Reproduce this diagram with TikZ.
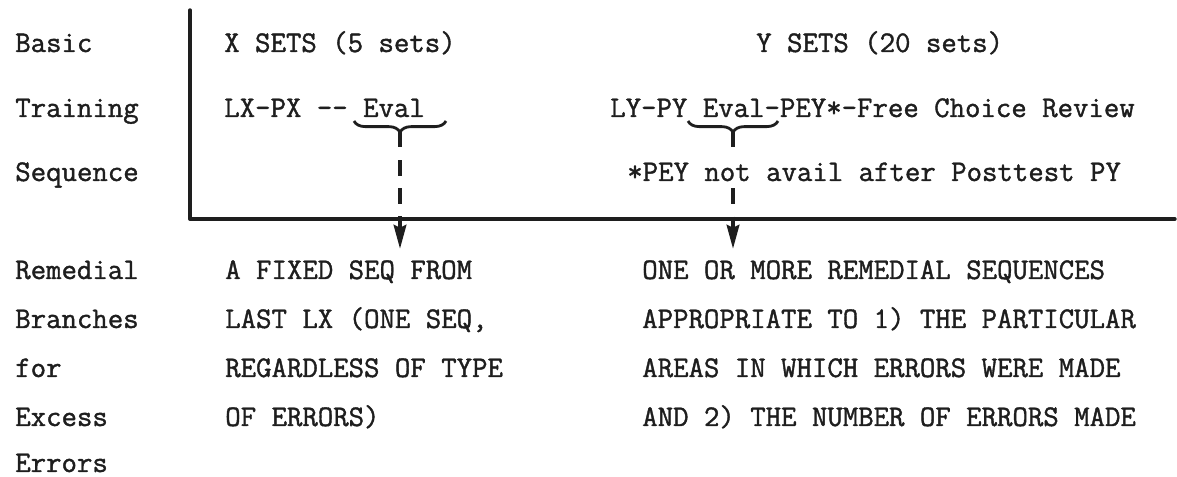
\documentclass[tikz,border=0pt]{standalone}
\usepackage{fontspec}
\newfontfamily\typew{Latin Modern Mono}[FakeBold=1.3]
\usetikzlibrary{arrows.meta,decorations.pathreplacing}
\definecolor{ink}{RGB}{30,30,30}
\begin{document}
\begin{tikzpicture}[x=0.025cm,y=-0.025cm,
  txt/.style={inner sep=0pt, anchor=base west, text=ink,
    font=\typew\fontsize{21.3}{25}\selectfont},
  rem/.style={txt, inner ysep=8pt},
  frame/.style={draw=ink, line width=2.4pt, line cap=round, line join=round},
  brc/.style={draw=ink, line width=2pt, decorate,
    decoration={brace, mirror, amplitude=8pt}},
  conn/.style={draw=ink, line width=2.4pt, dash pattern=on 11pt off 9pt,
    -{Stealth[length=17pt,width=9pt,inset=2pt]}},
]
\useasboundingbox (0,0) rectangle (1177,477);

% frame
\coordinate (ftop) at (190,10);
\coordinate (fcorner) at (190,219);
\coordinate (fend) at (1175,219);
\draw[frame] (ftop) -- (fcorner) -- (fend);

% left labels
\node[txt] (b1) at (15,52)  {Basic};
\node[txt] (b2) at (15,117) {Training};
\node[txt] (b3) at (15,181) {Sequence};
\node[txt] (r1) at (15,279) {Remedial};
\node[txt] (r2) at (15,328) {Branches};
\node[txt] (r3) at (15,377) {for};
\node[txt] (r4) at (15,426) {Excess};
\node[txt] (r5) at (15,472) {Errors};

% X sets
\node[txt] (xsets) at (224,52)  {X SETS (5 sets)};
\node[txt] (xseq)  at (224,117) {LX-PX -- Eval};

% Y sets
\node[txt] (ysets) at (756,52)  {Y SETS (20 sets)};
\node[txt] (yseq)  at (610,117) {LY-PY Eval-PEY*-Free Choice Review};
\node[txt, inner ysep=5pt] (pey) at (627,181) {*PEY not avail after Posttest PY};

% remedial branches
\node[rem] (fix1) at (225,279) {A FIXED SEQ FROM};
\node[txt] (fix2) at (225,328) {LAST LX (ONE SEQ,};
\node[txt] (fix3) at (225,377) {REGARDLESS OF TYPE};
\node[txt] (fix4) at (225,426) {OF ERRORS)};

\node[rem] (one1) at (642,279) {ONE OR MORE REMEDIAL SEQUENCES};
\node[txt] (one2) at (642,328) {APPROPRIATE TO 1) THE PARTICULAR};
\node[txt] (one3) at (642,377) {AREAS IN WHICH ERRORS WERE MADE};
\node[txt] (one4) at (642,426) {AND 2) THE NUMBER OF ERRORS MADE};

% braces
\draw[brc] (354,121) -- (446,121);
\coordinate (tipL) at (400,132);
\draw[brc] (688,121) -- (778,121);
\coordinate (tipR) at (733,132);

% connectors
\draw[conn] (tipL) -- (tipL |- fix1.north);
\draw[conn] (tipR) -- (tipR |- pey.north) (tipR |- pey.south) -- (tipR |- one1.north);
\end{tikzpicture}
\end{document}
